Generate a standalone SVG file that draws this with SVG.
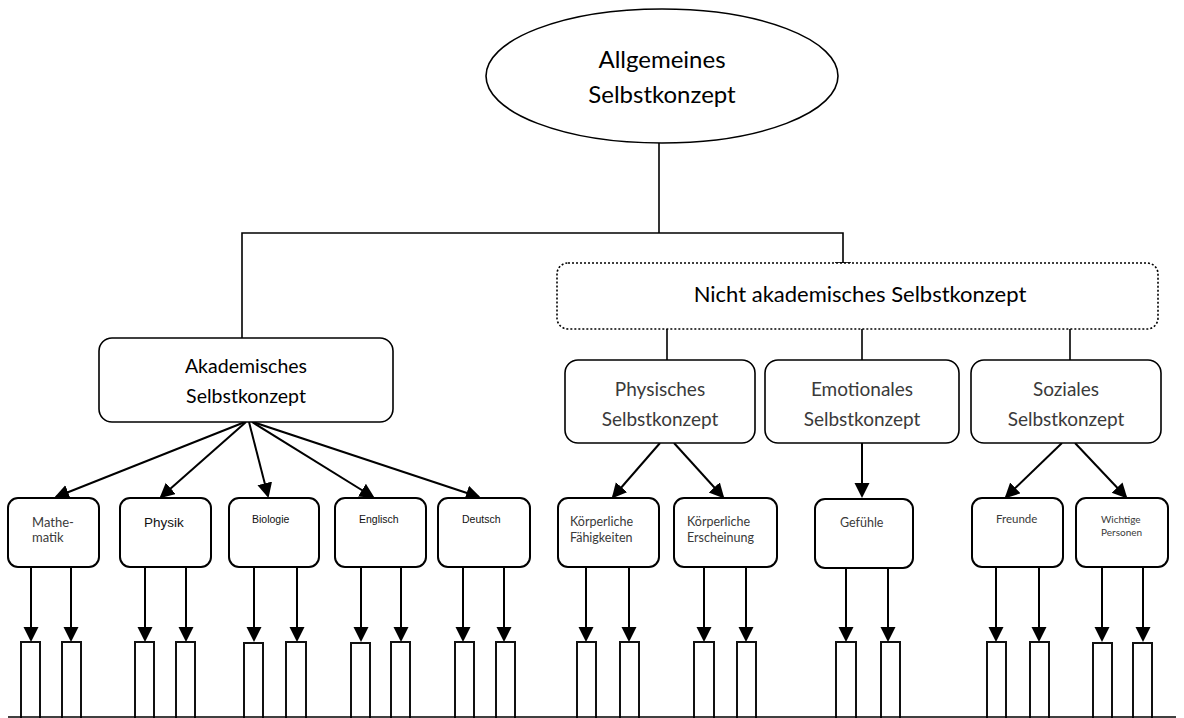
<svg xmlns="http://www.w3.org/2000/svg" width="1184" height="718" viewBox="0 0 1184 718">
  <style>
    .box { fill: #fff; stroke: #000; stroke-width: 1.6; }
    .leaf { fill: #fff; stroke: #000; stroke-width: 2; }
    .bar { fill: #fff; stroke: #111; stroke-width: 2; }
    .dotted { fill: #fff; stroke: #000; stroke-width: 1.6; stroke-dasharray: 2 2; }
    .line { fill: none; stroke: #000; stroke-width: 1.6; }
    .arrow { fill: none; stroke: #000; stroke-width: 2; marker-end: url(#head); }
    .cal { font-family: Lato, "Open Sans", sans-serif; fill: #000; }
    .light { font-family: Lato, "Open Sans", sans-serif; fill: #3a3a3a; }
    .ari { font-family: "Liberation Sans", Arial, sans-serif; fill: #111; }
  </style>
  <defs>
    <marker id="head" markerUnits="userSpaceOnUse" markerWidth="16" markerHeight="16" refX="13" refY="7.5" orient="auto">
      <path d="M0,0 L15,7.5 L0,15 z" fill="#000"/>
    </marker>
  </defs>
  <rect width="1184" height="718" fill="#fff"/>

  <!-- connectors -->
  <g id="connectors">
    <polyline class="line" points="659,143 659,233"/>
    <polyline class="line" points="242,338 242,233 843,233 843,263"/>
    <line class="line" x1="835" y1="263" x2="851" y2="263"/>
    <line class="line" x1="667" y1="329" x2="667" y2="360"/>
    <line class="line" x1="862" y1="329" x2="862" y2="360"/>
    <line class="line" x1="1070" y1="329" x2="1070" y2="360"/>

    <!-- academic branches -->
    <line class="arrow" x1="245" y1="422" x2="56" y2="497"/>
    <line class="arrow" x1="246" y1="422" x2="161" y2="497"/>
    <line class="arrow" x1="249" y1="422" x2="268" y2="496"/>
    <line class="arrow" x1="252" y1="422" x2="373" y2="497"/>
    <line class="arrow" x1="253" y1="422" x2="479" y2="497"/>

    <!-- non-academic branches -->
    <line class="arrow" x1="660" y1="443" x2="613" y2="497"/>
    <line class="arrow" x1="674" y1="443" x2="723" y2="497"/>
    <line class="arrow" x1="862" y1="443" x2="862" y2="496"/>
    <line class="arrow" x1="1062" y1="443" x2="1006" y2="497"/>
    <line class="arrow" x1="1075" y1="443" x2="1126" y2="497"/>

    <!-- leaf to bar arrows -->
    <line class="arrow" x1="31" y1="567" x2="31" y2="640"/>
    <line class="arrow" x1="71" y1="567" x2="71" y2="640"/>
    <line class="arrow" x1="145" y1="567" x2="145" y2="640"/>
    <line class="arrow" x1="186" y1="567" x2="186" y2="640"/>
    <line class="arrow" x1="254" y1="567" x2="254" y2="640"/>
    <line class="arrow" x1="297" y1="567" x2="297" y2="640"/>
    <line class="arrow" x1="361" y1="567" x2="361" y2="640"/>
    <line class="arrow" x1="401" y1="567" x2="401" y2="640"/>
    <line class="arrow" x1="463" y1="567" x2="463" y2="640"/>
    <line class="arrow" x1="504" y1="567" x2="504" y2="640"/>
    <line class="arrow" x1="586" y1="567" x2="586" y2="640"/>
    <line class="arrow" x1="629" y1="567" x2="629" y2="640"/>
    <line class="arrow" x1="704" y1="567" x2="704" y2="640"/>
    <line class="arrow" x1="746" y1="567" x2="746" y2="640"/>
    <line class="arrow" x1="846" y1="568" x2="846" y2="640"/>
    <line class="arrow" x1="888" y1="568" x2="888" y2="640"/>
    <line class="arrow" x1="996" y1="567" x2="996" y2="640"/>
    <line class="arrow" x1="1039" y1="567" x2="1039" y2="640"/>
    <line class="arrow" x1="1102" y1="567" x2="1102" y2="640"/>
    <line class="arrow" x1="1143" y1="567" x2="1143" y2="640"/>
  </g>

  <!-- top node -->
  <g id="allgemeines">
    <ellipse cx="662" cy="76" rx="176" ry="67" fill="#fff" stroke="#000" stroke-width="1.6"/>
    <text class="cal" font-size="24" text-anchor="middle" x="662" y="68">Allgemeines</text>
    <text class="cal" font-size="24" text-anchor="middle" x="662" y="103">Selbstkonzept</text>
  </g>

  <g id="akademisch">
    <rect class="box" x="99" y="338" width="294" height="84" rx="13"/>
    <text class="cal" font-size="19.5" text-anchor="middle" x="246" y="373">Akademisches</text>
    <text class="cal" font-size="19.5" text-anchor="middle" x="246" y="403">Selbstkonzept</text>
  </g>

  <g id="nicht-akademisch">
    <rect class="dotted" x="557" y="263" width="601" height="66" rx="11"/>
    <text class="cal" font-size="22" text-anchor="middle" x="860" y="302">Nicht akademisches Selbstkonzept</text>
  </g>

  <g id="physisch">
    <rect class="box" x="565" y="360" width="190" height="83" rx="13"/>
    <text class="light" font-size="19" text-anchor="middle" x="660" y="396">Physisches</text>
    <text class="light" font-size="19" text-anchor="middle" x="660" y="426">Selbstkonzept</text>
  </g>

  <g id="emotional">
    <rect class="box" x="765" y="360" width="194" height="83" rx="13"/>
    <text class="light" font-size="19" text-anchor="middle" x="862" y="396">Emotionales</text>
    <text class="light" font-size="19" text-anchor="middle" x="862" y="426">Selbstkonzept</text>
  </g>

  <g id="sozial">
    <rect class="box" x="971" y="360" width="190" height="83" rx="13"/>
    <text class="light" font-size="19" text-anchor="middle" x="1066" y="396">Soziales</text>
    <text class="light" font-size="19" text-anchor="middle" x="1066" y="426">Selbstkonzept</text>
  </g>

  <!-- leaf nodes -->
  <g id="mathematik">
    <rect class="leaf" x="8" y="498" width="91" height="69" rx="10"/>
    <text class="light" font-size="13" x="32" y="527">Mathe-</text>
    <text class="light" font-size="13" x="32" y="542">matik</text>
  </g>
  <g id="physik">
    <rect class="leaf" x="120" y="498" width="91" height="69" rx="10"/>
    <text class="ari" font-size="13.5" x="144" y="527">Physik</text>
  </g>
  <g id="biologie">
    <rect class="leaf" x="229" y="498" width="90" height="69" rx="10"/>
    <text class="ari" font-size="10.5" x="252" y="523">Biologie</text>
  </g>
  <g id="englisch">
    <rect class="leaf" x="335" y="498" width="91" height="69" rx="10"/>
    <text class="ari" font-size="10.5" x="359" y="523">Englisch</text>
  </g>
  <g id="deutsch">
    <rect class="leaf" x="438" y="498" width="92" height="69" rx="10"/>
    <text class="ari" font-size="10.5" x="462" y="523">Deutsch</text>
  </g>
  <g id="koerper-faehigkeiten">
    <rect class="leaf" x="558" y="498" width="101" height="69" rx="10"/>
    <text class="light" font-size="12.5" x="570" y="526">Körperliche</text>
    <text class="light" font-size="12.5" x="570" y="542">Fähigkeiten</text>
  </g>
  <g id="koerper-erscheinung">
    <rect class="leaf" x="674" y="498" width="103" height="69" rx="10"/>
    <text class="light" font-size="12.5" x="687" y="526">Körperliche</text>
    <text class="light" font-size="12.5" x="687" y="542">Erscheinung</text>
  </g>
  <g id="gefuehle">
    <rect class="leaf" x="815" y="499" width="98" height="69" rx="10"/>
    <text class="light" font-size="12.5" x="840" y="527">Gefühle</text>
  </g>
  <g id="freunde">
    <rect class="leaf" x="972" y="498" width="91" height="69" rx="10"/>
    <text class="light" font-size="11.5" x="996" y="523">Freunde</text>
  </g>
  <g id="wichtige-personen">
    <rect class="leaf" x="1076" y="498" width="92" height="69" rx="10"/>
    <text class="light" font-size="10" x="1101" y="523">Wichtige</text>
    <text class="light" font-size="10" x="1101" y="536">Personen</text>
  </g>

  <!-- bars along the base line -->
  <g id="bars">
    <rect class="bar" x="21" y="642" width="19" height="80"/>
    <rect class="bar" x="62" y="642" width="19" height="80"/>
    <rect class="bar" x="135" y="642" width="19" height="80"/>
    <rect class="bar" x="176" y="642" width="19" height="80"/>
    <rect class="bar" x="244" y="643" width="19" height="80"/>
    <rect class="bar" x="286" y="642" width="20" height="80"/>
    <rect class="bar" x="351" y="643" width="19" height="80"/>
    <rect class="bar" x="391" y="642" width="19" height="80"/>
    <rect class="bar" x="455" y="642" width="19" height="80"/>
    <rect class="bar" x="496" y="642" width="19" height="80"/>
    <rect class="bar" x="577" y="642" width="19" height="80"/>
    <rect class="bar" x="620" y="642" width="19" height="80"/>
    <rect class="bar" x="694" y="642" width="20" height="80"/>
    <rect class="bar" x="737" y="642" width="19" height="80"/>
    <rect class="bar" x="836" y="642" width="20" height="80"/>
    <rect class="bar" x="881" y="642" width="19" height="80"/>
    <rect class="bar" x="987" y="642" width="19" height="80"/>
    <rect class="bar" x="1030" y="642" width="19" height="80"/>
    <rect class="bar" x="1093" y="643" width="19" height="80"/>
    <rect class="bar" x="1133" y="643" width="19" height="80"/>
  </g>
  <line class="line" x1="8" y1="717" x2="1176" y2="717"/>
</svg>
